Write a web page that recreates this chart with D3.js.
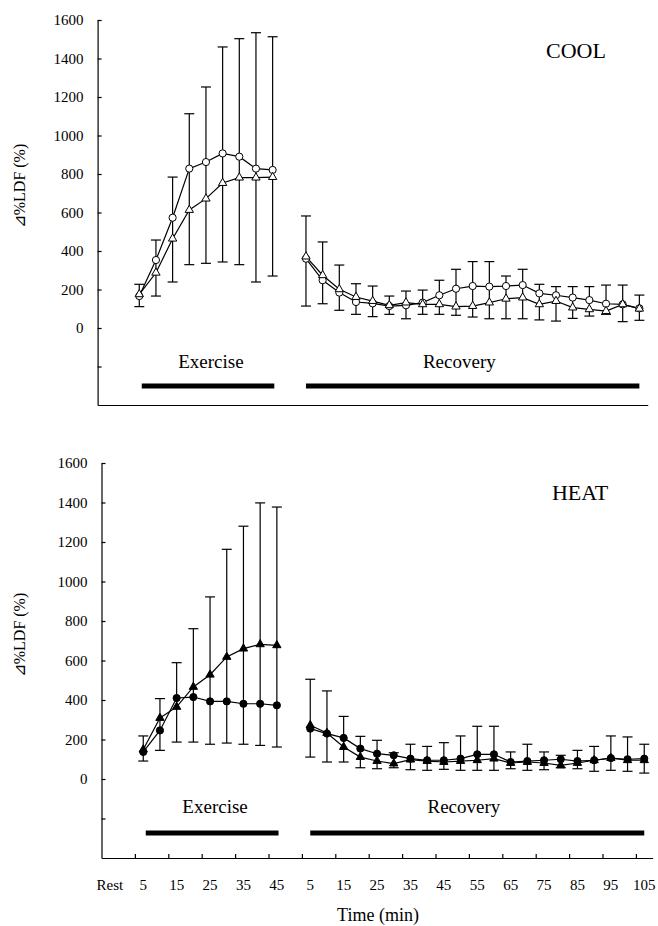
<!DOCTYPE html>
<html>
<head>
<meta charset="utf-8">
<script src="https://cdn.jsdelivr.net/npm/d3@7"></script>
<style>
  body { margin: 0; background: white; }
  svg { display: block; }
  text { fill: black; }
</style>
</head>
<body>
<div id="plot"></div>
<script>
// Parameters
const svg_w = 658;
const svg_h = 926;
const font = "'Liberation Serif', 'Times New Roman', serif";

// Time points (min)
const exTimes = [5, 10, 15, 20, 25, 30, 35, 40, 45];
const recTimes = [5, 10, 15, 20, 25, 30, 35, 40, 45, 50, 55, 60, 65, 70, 75, 80, 85, 90, 95, 100, 105];
const xTickLabels = ["Rest", "5", "15", "25", "35", "45", "5", "15", "25", "35", "45", "55", "65", "75", "85", "95", "105"];
const yTicks = [-200, 0, 200, 400, 600, 800, 1000, 1200, 1400, 1600];

// COOL: circles / triangles, error bar ends
const coolCircleEx = [166, 353, 573, 828, 862, 907, 890, 828, 821];
const coolTriEx = [175, 287, 464, 613, 672, 753, 781, 781, 784];
const coolHiEx = [227, 457, 784, 1113, 1252, 1460, 1503, 1534, 1513];
const coolLoEx = [111, 166, 239, 329, 336, 343, 329, 239, 270];
const coolCircleRec = [360, 248, 184, 135, 128, 114, 118, 132, 170, 204, 218, 215, 218, 223, 180, 170, 158, 145, 126, 123, 102];
const coolTriRec = [371, 274, 201, 161, 140, 118, 132, 123, 123, 111, 114, 132, 152, 158, 123, 140, 106, 97, 88, 123, 100];
const coolHiRec = [582, 447, 327, 230, 218, 166, 192, 197, 248, 305, 345, 345, 270, 305, 227, 215, 215, 215, 223, 223, 171];
const coolLoRec = [114, 126, 92, 71, 59, 71, 48, 71, 71, 66, 57, 48, 48, 48, 42, 36, 50, 62, 71, 33, 40];

// HEAT: circles / triangles, error bar ends
const heatCircleEx = [137, 246, 410, 415, 393, 393, 381, 381, 373];
const heatTriEx = [149, 309, 365, 466, 528, 618, 660, 682, 677];
const heatHiEx = [218, 407, 589, 761, 922, 1163, 1280, 1398, 1377];
const heatLoEx = [91, 145, 187, 187, 176, 182, 176, 170, 162];
const heatCircleRec = [255, 230, 208, 154, 128, 120, 103, 95, 95, 103, 125, 125, 86, 91, 95, 100, 91, 95, 106, 100, 103];
const heatTriRec = [272, 233, 162, 111, 91, 78, 98, 91, 86, 91, 95, 103, 81, 86, 81, 69, 81, 95, 106, 95, 95];
const heatHiRec = [505, 446, 317, 216, 196, 133, 176, 165, 184, 218, 267, 267, 137, 176, 137, 120, 145, 165, 218, 213, 176];
const heatLoRec = [111, 86, 86, 57, 52, 57, 47, 44, 49, 44, 44, 44, 52, 44, 47, 57, 52, 39, 44, 39, 30];

// Category position on the x axis (Rest = -2, exercise 0..8, recovery 10..30)
const exIndex = t => (t - 5) / 5;
const recIndex = t => 10 + (t - 5) / 5;

const panels = [
  {name: "COOL", filled: false, xr: [97.6, 647.7], yr: [405, 20], showTicks: false,
   labelX: 576, labelY: 58, phaseY: 368, barY: 386, ylabY: 186,
   circleEx: coolCircleEx, triEx: coolTriEx, hiEx: coolHiEx, loEx: coolLoEx,
   circleRec: coolCircleRec, triRec: coolTriRec, hiRec: coolHiRec, loRec: coolLoRec},
  {name: "HEAT", filled: true, xr: [101.5, 652.6], yr: [858, 463], showTicks: true,
   labelX: 580, labelY: 500, phaseY: 813, barY: 833, ylabY: 635,
   circleEx: heatCircleEx, triEx: heatTriEx, hiEx: heatHiEx, loEx: heatLoEx,
   circleRec: heatCircleRec, triRec: heatTriRec, hiRec: heatHiRec, loRec: heatLoRec}
];

const svg = d3.select("div#plot")
  .append("svg")
    .attr("width", svg_w)
    .attr("height", svg_h);

svg.append("rect")
    .attr("width", svg_w)
    .attr("height", svg_h)
    .attr("fill", "white");

panels.forEach(function(p) {
  const xScale = d3.scaleLinear().domain([-2.5, 30.5]).range(p.xr);
  const yScale = d3.scaleLinear().domain([-400, 1600]).range(p.yr);

  const g = svg.append("g").attr("class", "panel-" + p.name);

  // y axis, ticks pointing inward
  const yAxis = d3.axisLeft(yScale)
      .tickValues(yTicks)
      .tickSizeInner(-4)
      .tickSizeOuter(0)
      .tickPadding(14)
      .tickFormat(d => d < 0 ? "" : d);

  g.append("g")
      .attr("class", "yAxis")
      .attr("transform", `translate(${p.xr[0]}, 0)`)
      .call(yAxis)
      .attr("font-family", font)
      .attr("font-size", 15);

  // x axis
  const xAxis = d3.axisBottom(xScale)
      .tickValues(p.showTicks ? d3.range(-0.5, 30, 2) : [])
      .tickSizeInner(-4)
      .tickSizeOuter(0)
      .tickFormat("");

  g.append("g")
      .attr("class", "xAxis")
      .attr("transform", `translate(0, ${p.yr[0]})`)
      .call(xAxis);

  g.selectAll(".domain, .tick line")
      .attr("stroke", "black")
      .attr("stroke-width", 1.2);

  // y label
  g.append("text")
      .attr("transform", `translate(25, ${p.ylabY}) rotate(-90)`)
      .attr("text-anchor", "middle")
      .style("font-family", font)
      .style("font-size", "16px")
      .text("⊿%LDF (%)");

  // condition label
  g.append("text")
      .attr("x", p.labelX)
      .attr("y", p.labelY)
      .attr("text-anchor", "middle")
      .style("font-family", font)
      .style("font-size", "22px")
      .text(p.name);

  // phase labels and bars
  g.append("text")
      .attr("x", xScale(4.3))
      .attr("y", p.phaseY)
      .attr("text-anchor", "middle")
      .style("font-family", font)
      .style("font-size", "19px")
      .text("Exercise");

  g.append("text")
      .attr("x", xScale(19.2))
      .attr("y", p.phaseY)
      .attr("text-anchor", "middle")
      .style("font-family", font)
      .style("font-size", "19px")
      .text("Recovery");

  [[0.15, 8.1], [10, 30]].forEach(function(b) {
    g.append("line")
        .attr("x1", xScale(b[0]))
        .attr("x2", xScale(b[1]))
        .attr("y1", p.barY)
        .attr("y2", p.barY)
        .attr("stroke", "black")
        .attr("stroke-width", 5);
  });

  // build point records for both phases
  const phases = [
    exTimes.map((t, i) => ({i: exIndex(t), c: p.circleEx[i], tr: p.triEx[i], hi: p.hiEx[i], lo: p.loEx[i]})),
    recTimes.map((t, i) => ({i: recIndex(t), c: p.circleRec[i], tr: p.triRec[i], hi: p.hiRec[i], lo: p.loRec[i]}))
  ];

  phases.forEach(function(data) {
    // error bars
    const eb = g.append("g").attr("class", "errors")
        .attr("stroke", "black")
        .attr("stroke-width", 1.2);

    eb.selectAll("line.v").data(data).enter()
      .append("line")
        .attr("class", "v")
        .attr("x1", d => xScale(d.i))
        .attr("x2", d => xScale(d.i))
        .attr("y1", d => yScale(d.lo))
        .attr("y2", d => yScale(d.hi));

    eb.selectAll("line.hi").data(data).enter()
      .append("line")
        .attr("class", "hi")
        .attr("x1", d => xScale(d.i) - 5)
        .attr("x2", d => xScale(d.i) + 5)
        .attr("y1", d => yScale(d.hi))
        .attr("y2", d => yScale(d.hi));

    eb.selectAll("line.lo").data(data).enter()
      .append("line")
        .attr("class", "lo")
        .attr("x1", d => xScale(d.i) - 5)
        .attr("x2", d => xScale(d.i) + 5)
        .attr("y1", d => yScale(d.lo))
        .attr("y2", d => yScale(d.lo));

    // lines
    const lineC = d3.line().x(d => xScale(d.i)).y(d => yScale(d.c));
    const lineT = d3.line().x(d => xScale(d.i)).y(d => yScale(d.tr));

    g.append("path")
        .datum(data)
        .attr("d", lineC)
        .attr("fill", "none")
        .attr("stroke", "black")
        .attr("stroke-width", 1.2);

    g.append("path")
        .datum(data)
        .attr("d", lineT)
        .attr("fill", "none")
        .attr("stroke", "black")
        .attr("stroke-width", 1.2);

    // markers
    const fill = p.filled ? "black" : "white";

    g.append("g").selectAll("circle").data(data).enter()
      .append("circle")
        .attr("cx", d => xScale(d.i))
        .attr("cy", d => yScale(d.c))
        .attr("r", 3.6)
        .attr("fill", fill)
        .attr("stroke", "black")
        .attr("stroke-width", 1);

    g.append("g").selectAll("path").data(data).enter()
      .append("path")
        .attr("d", d3.symbol().type(d3.symbolTriangle).size(30))
        .attr("transform", d => `translate(${xScale(d.i)}, ${yScale(d.tr)})`)
        .attr("fill", fill)
        .attr("stroke", "black")
        .attr("stroke-width", 1);
  });

  // x tick labels (bottom panel only)
  if (p.showTicks) {
    const labelIdx = xTickLabels.map((d, k) => k === 0 ? -2 : 2 * (k - 1));
    g.append("g").selectAll("text").data(xTickLabels).enter()
      .append("text")
        .attr("x", (d, k) => xScale(labelIdx[k]))
        .attr("y", 890)
        .attr("text-anchor", "middle")
        .style("font-family", font)
        .style("font-size", "15px")
        .text(d => d);

    g.append("text")
        .attr("x", 378)
        .attr("y", 921)
        .attr("text-anchor", "middle")
        .style("font-family", font)
        .style("font-size", "18px")
        .text("Time (min)");
  }
});
</script>
</body>
</html>
